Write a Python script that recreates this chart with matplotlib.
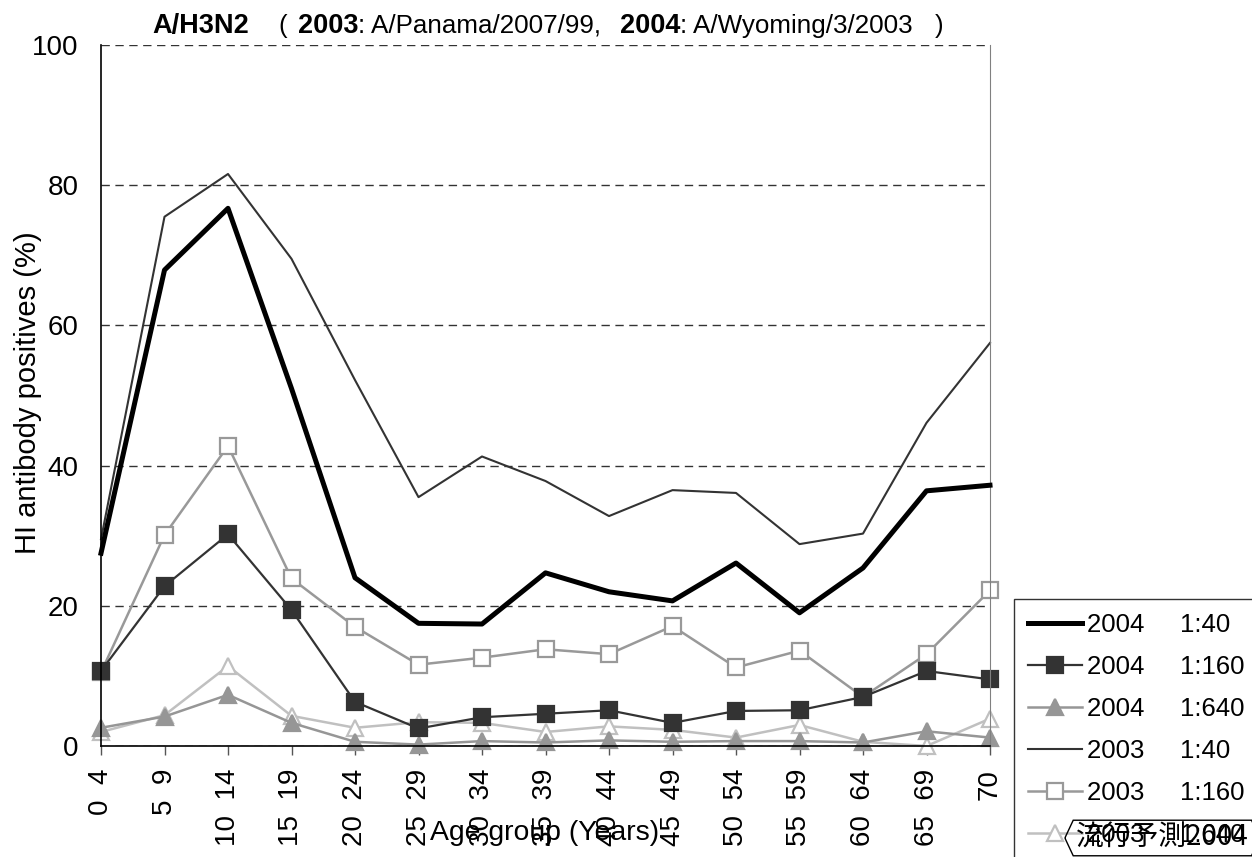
import matplotlib
matplotlib.use("Agg")
import matplotlib.pyplot as plt
from matplotlib.path import Path

# --- data ---
age_groups = ["0  4", "5  9", "10  14", "15  19", "20  24", "25  29", "30  34",
              "35  39", "40  44", "45  49", "50  54", "55  59", "60  64", "65  69", "70"]

pos_2004_40 = [27.5, 67.9, 76.7, 51.0, 24.0, 17.5, 17.4, 24.7, 22.0, 20.7, 26.1, 19.0, 25.4, 36.4, 37.2]
pos_2004_160 = [10.7, 22.8, 30.2, 19.4, 6.3, 2.5, 4.1, 4.6, 5.1, 3.3, 5.0, 5.1, 7.0, 10.7, 9.5]
pos_2004_640 = [2.6, 4.2, 7.3, 3.3, 0.6, 0.2, 0.7, 0.5, 0.8, 0.6, 0.7, 0.7, 0.5, 2.1, 1.2]
pos_2003_40 = [29.5, 75.5, 81.6, 69.5, 52.2, 35.5, 41.3, 37.8, 32.8, 36.5, 36.1, 28.8, 30.3, 46.1, 57.5]
pos_2003_160 = [10.5, 30.1, 42.8, 23.9, 17.0, 11.6, 12.6, 13.8, 13.1, 17.1, 11.2, 13.6, 7.0, 13.1, 22.2]
pos_2003_640 = [2.0, 4.4, 11.4, 4.3, 2.6, 3.4, 3.3, 2.0, 2.8, 2.3, 1.2, 3.0, 0.6, 0.0, 3.9]

series_labels = ["2004     1:40", "2004     1:160", "2004     1:640",
                 "2003     1:40", "2003     1:160", "2003     1:640"]

# title pieces: (bold text, left edge px, regular text that follows it)
title_pieces = [("A/H3N2", 152, None), (None, 278, "("),
                ("2003", 298, ": A/Panama/2007/99,"),
                ("2004", 620, ": A/Wyoming/3/2003"), (None, 935, ")")]

plt.rcParams['font.family'] = ['Liberation Sans', 'DejaVu Sans']

W, H = 1252, 857
fig = plt.figure(figsize=(W / 100, H / 100), dpi=100)
ax = fig.add_axes([101 / W, 1 - 746 / H, (990 - 101) / W, (746 - 45) / H])

x = list(range(len(age_groups)))

# (values, color, lw, marker, facecolor, zorder)
styles = [
    (pos_2004_40, 'black', 3.6, None, None, 2.6),
    (pos_2004_160, '#333333', 1.6, 's', '#333333', 2.5),
    (pos_2004_640, '#969696', 1.8, '^', '#969696', 2.4),
    (pos_2003_40, '#333333', 1.5, None, None, 2.3),
    (pos_2003_160, '#999999', 1.8, 's', 'white', 2.2),
    (pos_2003_640, '#c0c0c0', 1.8, '^', 'white', 2.1),
]

handles = []
for vals, col, lw, mk, fc, z in styles:
    kw = {}
    if mk is not None:
        kw = dict(marker=mk, markersize=11, markerfacecolor=fc,
                  markeredgecolor=col, markeredgewidth=1.6)
    ln, = ax.plot(x, vals, color=col, lw=lw, zorder=z, clip_on=False, **kw)
    handles.append(ln)

ax.set_xlim(0, len(age_groups) - 1)
ax.set_ylim(0, 100)
ax.set_yticks(range(0, 101, 20))
ax.set_xticks(x, age_groups, rotation=90)
ax.yaxis.grid(True, linestyle=(0, (6, 4)), color='#333333', lw=1)
ax.set_axisbelow(True)

ax.spines['top'].set_visible(False)
ax.spines['right'].set_color('#808080')
ax.spines['left'].set_linewidth(1.2)
ax.spines['bottom'].set_linewidth(1.2)
ax.tick_params(axis='y', length=0, pad=16, labelsize=20)
ax.tick_params(axis='x', length=6.5, width=1, color='#555555', pad=10, labelsize=20)

# axis labels
fig.text(545 / W, 1 - 840 / H, "Age group (Years)", fontsize=20.4,
         ha='center', va='baseline')
fig.text(28 / W, 1 - 393 / H, "HI antibody positives (%)", fontsize=21,
         rotation=90, ha='center', va='center')

# title built from bold / regular pieces, all on one baseline
renderer = fig.canvas.get_renderer()
base_y = 1 - 33 / H
for bold, left, regular in title_pieces:
    if bold is not None:
        t = fig.text(left / W, base_y, bold, fontsize=19.5, weight='bold',
                     ha='left', va='baseline')
        if regular is not None:
            x_end = t.get_window_extent(renderer).x1
            fig.text(x_end / W, base_y, regular, fontsize=18.7,
                     ha='left', va='baseline')
    else:
        fig.text(left / W, base_y, regular, fontsize=18.7,
                 ha='left', va='baseline')

# legend
leg = fig.legend(handles, series_labels, loc='upper left',
                 bbox_to_anchor=(1014 / W, 0, 0.3, 1 - 599 / H), mode='expand',
                 fontsize=18.5, frameon=True, fancybox=False, edgecolor='black',
                 handlelength=2.1, handletextpad=0.2, borderpad=0.55,
                 labelspacing=0.7, numpoints=1, borderaxespad=0)
leg.get_frame().set_linewidth(1.0)


def hex_box(x0, y0, width, height, mutation_size):
    pad = 0.1 * mutation_size
    x0, y0 = x0 - pad, y0 - pad
    x1, y1 = x0 + width + 2 * pad, y0 + height + 2 * pad
    tip = 0.3 * mutation_size
    ym = (y0 + y1) / 2
    return Path([(x0 - tip, ym), (x0, y1), (x1, y1), (x1 + tip, ym),
                 (x1, y0), (x0, y0), (x0 - tip, ym)], closed=True)


fig.text(1076 / W, 1 - 838 / H, "流行予測2004", fontsize=20,
         family=['Noto Sans CJK JP', 'DejaVu Sans'], style='italic',
         ha='left', va='center', zorder=10,
         bbox=dict(boxstyle=hex_box, fc='none', ec='black', lw=1))

fig.savefig("out.png", dpi=100)
